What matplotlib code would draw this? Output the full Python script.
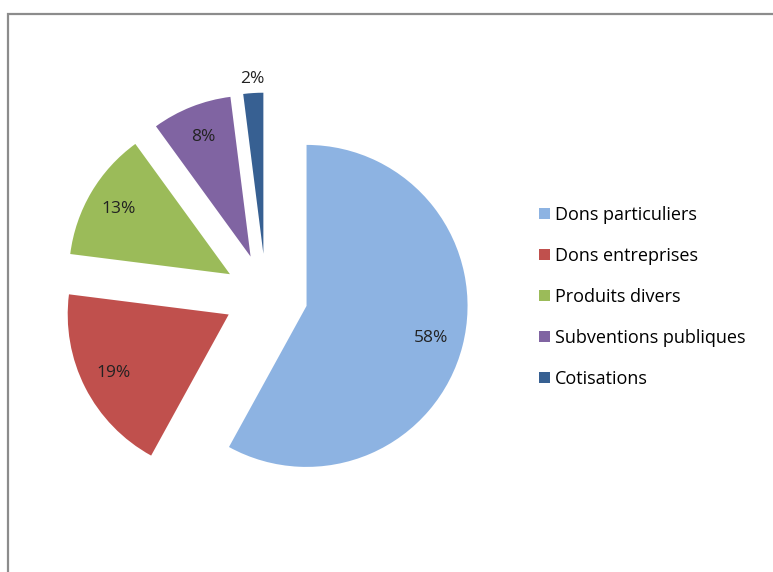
import matplotlib.pyplot as plt
from matplotlib.patches import Rectangle
import numpy as np

# Data
categories = ['Dons particuliers', 'Dons entreprises', 'Produits divers',
              'Subventions publiques', 'Cotisations']
shares = [58, 19, 13, 8, 2]
colors = ['#8DB3E2', '#C0504D', '#9BBB59', '#8064A2', '#376092']

plt.rcParams['font.family'] = ['Open Sans', 'DejaVu Sans']

W, H = 773, 572
fig = plt.figure(figsize=(W / 100, H / 100), dpi=100)

# frame around chart area (grey border like the source, cut off right and bottom)
fig.patches.append(Rectangle((8 / W, -0.5), 2, 1.5 - 13.5 / H, transform=fig.transFigure,
                             fill=False, edgecolor='#8c8c8c', linewidth=1.6))

ax = fig.add_axes([0, 0, 1, 1])
R = 161.0
cx, cy = 266.0, 295.5

wedges, texts, autotexts = ax.pie(
    shares, colors=colors, startangle=90, counterclock=False,
    explode=[0.26] * len(shares), autopct='%d%%', pctdistance=0.8,
    textprops=dict(fontsize=12.5, color='#222222'),
    wedgeprops=dict(linewidth=0))

# pie() resets limits/aspect, so fix the pixel scale afterwards
ax.set_aspect('auto')
ax.set_xlim(-cx / R, (W - cx) / R)
ax.set_ylim(-(H - cy) / R, cy / R)
ax.axis('off')

# the small slice label sits outside the wedge
w = wedges[-1]
ang = np.deg2rad((w.theta1 + w.theta2) / 2)
autotexts[-1].set_position((w.center[0] + 1.09 * np.cos(ang),
                            w.center[1] + 1.09 * np.sin(ang)))

leg = ax.legend(wedges, categories, loc='upper left',
                bbox_to_anchor=(530 / W, 1 - 197 / H), bbox_transform=fig.transFigure,
                frameon=False, fontsize=13, handlelength=0.6, handleheight=0.6,
                handletextpad=0.3, labelspacing=1.27, borderpad=0)

fig.savefig('out.png', dpi=100)
